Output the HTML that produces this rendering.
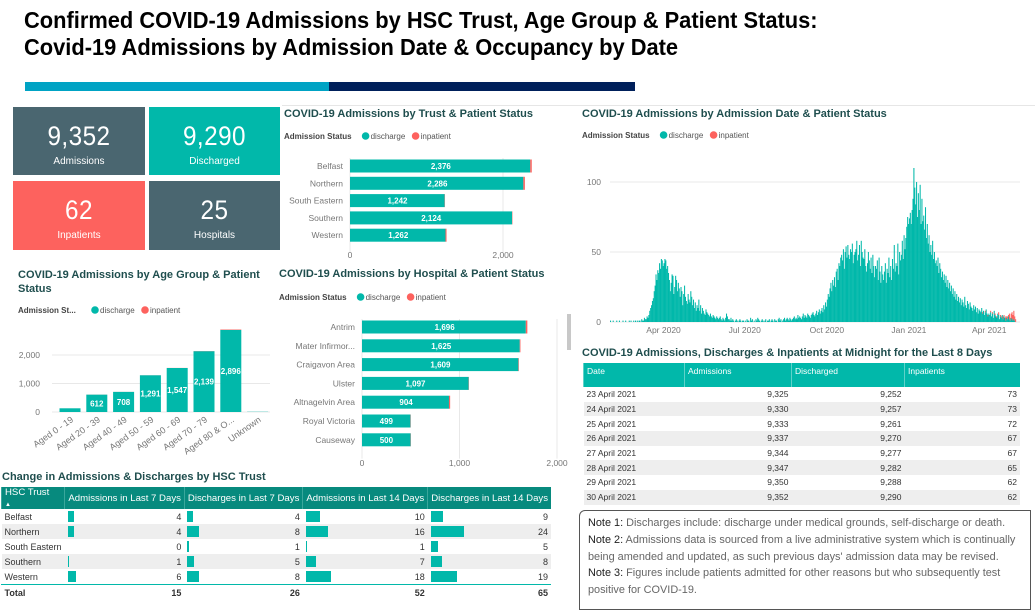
<!DOCTYPE html>
<html><head><meta charset="utf-8">
<style>
body{margin:0;width:1035px;height:607px;overflow:hidden;background:#fff;font-family:"Liberation Sans",sans-serif;position:relative}
.abs{position:absolute}
.h1{font-weight:bold;font-size:23px;color:#000;left:24px;white-space:nowrap;transform:scaleX(0.95);transform-origin:0 0}
.kpi{position:absolute;color:#fff;text-align:center}
.kpi .v{font-size:27px;margin-top:14px;letter-spacing:0.5px;transform:scaleX(0.9)}
.kpi .l{font-size:10px;margin-top:4px}
.ttl{position:absolute;font-size:11px;font-weight:bold;color:#1f4e4e;white-space:nowrap}
table{border-collapse:collapse;position:absolute;font-size:8.5px;color:#333}
td,th{padding:0 3px;white-space:nowrap}
#hsc th{background:#078a7e;color:#fff;font-weight:normal;font-size:9.6px;height:18px;border-left:1px solid #3aa79c;text-align:left}
#hsc td{height:15px;position:relative;font-size:9px}
#hsc td.n{text-align:right}
#hsc tr.g td{background:#eee}
.db{position:absolute;left:3px;top:2px;height:11px;background:#01b8aa}
#occ th{background:#01b8aa;color:#fff;font-weight:normal;height:21px;text-align:left;border-left:1px solid #5fd2c9;vertical-align:top;padding-top:3px}
#occ td{height:14.7px;text-align:right}
#occ td:first-child{text-align:left}
#occ tr.g td{background:#eee}
.note{position:absolute;left:579px;top:510px;width:452px;height:100px;border:1px solid #555;border-radius:6px 0 0 0;font-size:10.9px;color:#666;line-height:16.8px;padding:4px 0 0 8px;box-sizing:border-box;white-space:nowrap}
.note b{font-weight:normal;color:#222}
</style></head><body>
<div class="abs h1" style="top:7px">Confirmed COVID-19 Admissions by HSC Trust, Age Group &amp; Patient Status:</div>
<div class="abs h1" style="top:34px">Covid-19 Admissions by Admission Date &amp; Occupancy by Date</div>
<div class="abs" style="left:25px;top:82px;width:304px;height:9px;background:#00a3c4"></div>
<div class="abs" style="left:329px;top:82px;width:306px;height:9px;background:#00205b"></div>
<div class="abs" style="left:282px;top:105px;width:753px;height:1px;background:#e6e6e6"></div>

<div class="kpi" style="left:13px;top:107px;width:132px;height:68px;background:#4a6670"><div class="v">9,352</div><div class="l">Admissions</div></div>
<div class="kpi" style="left:149px;top:107px;width:131px;height:68px;background:#01b8aa"><div class="v">9,290</div><div class="l">Discharged</div></div>
<div class="kpi" style="left:13px;top:181px;width:132px;height:69px;background:#fd625e"><div class="v">62</div><div class="l">Inpatients</div></div>
<div class="kpi" style="left:149px;top:181px;width:131px;height:69px;background:#4a6670"><div class="v">25</div><div class="l">Hospitals</div></div>

<div class="ttl" style="left:284px;top:108px">COVID-19 Admissions by Trust &amp; Patient Status</div>
<div class="ttl" style="left:18px;top:268px;line-height:14px">COVID-19 Admissions by Age Group &amp; Patient<br>Status</div>
<div class="ttl" style="left:279px;top:268px">COVID-19 Admissions by Hospital &amp; Patient Status</div>
<div class="ttl" style="left:582px;top:108px">COVID-19 Admissions by Admission Date &amp; Patient Status</div>
<div class="ttl" style="left:582px;top:347px">COVID-19 Admissions, Discharges &amp; Inpatients at Midnight for the Last 8 Days</div>
<div class="ttl" style="left:2px;top:471px">Change in Admissions &amp; Discharges by HSC Trust</div>

<svg id="svg" class="abs" style="left:0;top:0" width="1035" height="607"></svg>

<table id="hsc" style="left:1px;top:487px;width:550px">
<tr><th style="width:57px">HSC Trust<br><span style="font-size:6px">▲</span></th><th>Admissions in Last 7 Days</th><th>Discharges in Last 7 Days</th><th>Admissions in Last 14 Days</th><th>Discharges in Last 14 Days</th></tr>
</table>
<div class="abs" style="left:1px;top:584px;width:550px;height:1px;background:#01b8aa"></div>

<table id="occ" style="left:583px;top:363px;width:437px">
<tr><th style="width:94px">Date</th><th style="width:100px">Admissions</th><th style="width:106px">Discharged</th><th>Inpatients</th></tr>
</table>

<div class="note">
<div><b>Note 1:</b> Discharges include: discharge under medical grounds, self-discharge or death.</div>
<div><b>Note 2:</b> Admissions data is sourced from a live administrative system which is continually</div>
<div>being amended and updated, as such previous days' admission data may be revised.</div>
<div><b>Note 3:</b> Figures include patients admitted for other reasons but who subsequently test</div>
<div>positive for COVID-19.</div>
</div>
<div class="abs" style="left:567px;top:314px;width:4px;height:36px;background:#c8c8c8"></div>

<script>
const trustNames=["Belfast","Northern","South Eastern","Southern","Western"];
const trustDis=[2356,2266,1238,2119,1248];
const trustInp=[20,20,4,5,14];
const trustLabels=["2,376","2,286","1,242","2,124","1,262"];
const ageNames=["Aged 0 - 19","Aged 20 - 39","Aged 40 - 49","Aged 50 - 59","Aged 60 - 69","Aged 70 - 79","Aged 80 & O...","Unknown"];
const ageDis=[130,610,706,1289,1544,2134,2880,8];
const ageInp=[0,2,2,2,3,5,16,0];
const ageLabels=["","612","708","1,291","1,547","2,139","2,896",""];
const hospNames=["Antrim","Mater Infirmor...","Craigavon Area","Ulster","Altnagelvin Area","Royal Victoria","Causeway"];
const hospDis=[1680,1618,1604,1094,892,497,499];
const hospInp=[16,7,5,3,12,2,1];
const hospLabels=["1,696","1,625","1,609","1,097","904","499","500"];
const dailyDis=[
1,0,0,1,0,0,0,1,0,0,1,0,0,0,1,0,0,1,0,0,0,1,0,1,0,0,1,0,1,
0,1,0,1,1,0,2,1,1,3,2,2,4,3,5,8,10,12,15,17,22,26,34,30,37,35,42,38,45,44,40,
42,45,44,38,40,35,30,22,28,34,33,20,25,33,30,22,28,24,18,25,22,12,20,26,18,15,13,20,16,14,
22,18,12,16,10,14,8,12,10,16,8,12,6,10,8,6,5,9,7,6,5,4,6,4,3,5,4,3,2,4,3,
2,3,4,2,1,3,2,1,3,6,4,2,2,1,3,1,2,1,0,1,2,1,0,1,2,1,0,1,1,0,
1,0,2,1,1,0,3,1,2,0,1,0,2,1,3,2,1,0,1,2,1,0,1,2,0,1,1,2,0,1,2,
1,0,2,1,1,0,2,3,1,2,0,1,2,3,1,2,3,2,1,3,2,1,2,3,4,2,3,2,5,3,4,
3,2,4,6,3,5,4,3,6,5,4,3,5,6,7,5,4,6,8,5,7,9,6,8,10,7,12,9,14,11,
16,20,18,24,28,22,30,26,32,25,36,38,30,42,40,46,48,44,52,38,50,54,46,55,48,45,52,50,56,42,48,
50,52,58,44,48,55,40,58,50,46,45,52,40,36,42,50,44,38,46,35,48,40,32,40,38,44,30,46,36,28,
40,34,30,36,42,28,38,35,46,32,40,30,45,38,55,36,42,40,56,34,50,44,48,58,45,62,52,60,68,75,70,
74,78,70,80,88,110,96,84,100,75,92,80,98,70,88,72,76,66,82,60,70,56,62,50,55,48,58,45,50,42,44,
40,46,35,42,38,32,36,30,34,28,33,25,30,24,28,22,26,20,24,18,22,16,20,15,18,14,17,12,
16,14,11,18,12,10,15,13,9,14,11,10,8,12,9,11,7,10,6,9,8,7,10,6,8,5,7,9,6,4,6,
5,7,4,6,3,8,5,4,3,6,5,2,4,3,5,2,4,3,1,3,2,4,2,1,3,2,1,2,1,0];
const dailyInpTail=[0,0,1,0,0,1,0,0,1,0,0,1,0,1,0,0,1,0,1,0,2,0,1,1,0,2,1,0,3,1,2,1,4,2,3,5,4,6,3,2];
const dailyTicks=[0,50,100];
const monthLabels=["Apr 2020","Jul 2020","Oct 2020","Jan 2021","Apr 2021"];
const monthDays=[60,151,243,335,425];
const hscRows=["Belfast","Northern","South Eastern","Southern","Western"];
const adm7=[4,4,0,1,6],dis7=[4,8,1,5,8],adm14=[10,16,1,7,18],dis14=[9,24,5,8,19];
const occDates=["23 April 2021","24 April 2021","25 April 2021","26 April 2021","27 April 2021","28 April 2021","29 April 2021","30 April 2021"];
const occAdm=[9325,9330,9333,9337,9344,9347,9350,9352];
const occDis=[9252,9257,9261,9270,9277,9282,9288,9290];
const occInp=[73,73,72,67,67,65,62,62];

const NS="http://www.w3.org/2000/svg",svg=document.getElementById('svg');
const TEAL="#01b8aa",RED="#fd625e",GRID="#e8e8e8",AX="#777";
function mk(t,a,p){const e=document.createElementNS(NS,t);for(const k in a)e.setAttribute(k,a[k]);(p||svg).appendChild(e);return e;}
function txt(x,y,s,a){const e=mk('text',Object.assign({x:x,y:y,'font-size':8.5,fill:AX,'font-family':'Liberation Sans, sans-serif'},a||{}));e.textContent=s;return e;}
function legend(x,y,lab){
  const a=txt(x,y,lab,{fill:'#444','font-weight':'bold','font-size':8});
  
  
  const w=lab.length*4.6+4;
  const c1=mk('circle',{cx:x+w+4,cy:y-3,r:3.8,fill:TEAL});
  
  
  const t1=txt(x+w+9,y,'discharge',{fill:'#555','font-size':8});
  
  
  const c2=mk('circle',{cx:x+w+54,cy:y-3,r:3.8,fill:RED});
  
  
  const t2=txt(x+w+59,y,'inpatient',{fill:'#555','font-size':8});
  
  
}
function hbar(names,dis,inp,labels,x0,pxPer,y0,step,h,ticks,tickY,lblX){
  ticks.forEach(v=>{const gx=x0+v*pxPer;
    const g=mk('line',{x1:gx,x2:gx,y1:y0-8,y2:y0+step*names.length,stroke:GRID});
    
    const t=txt(gx,tickY,v.toLocaleString('en-US'),{'text-anchor':'middle'});
    
  });
  names.forEach((n,i)=>{const cy=y0+i*step;
    const l=txt(lblX,cy+3,n,{'text-anchor':'end'});
    
    
    const b=mk('rect',{x:x0,y:cy-h/2,width:dis[i]*pxPer,height:h,fill:TEAL});
    
    
    const r=mk('rect',{x:x0+dis[i]*pxPer,y:cy-h/2,width:Math.max(inp[i]*pxPer,0.3),height:h,fill:RED});
    
    
    const v=txt(x0+(dis[i]+inp[i])*pxPer/2,cy+3,labels[i],{'text-anchor':'middle',fill:'#fff','font-weight':'bold','font-size':8});
    
  });
}
legend(284,139,'Admission Status');
hbar(trustNames,trustDis,trustInp,trustLabels,350,0.0765,166,17.3,13,[0,2000],258,343);
legend(279,300,'Admission Status');
hbar(hospNames,hospDis,hospInp,hospLabels,362,0.0975,327,18.8,13,[0,1000,2000],466,355);
legend(18,313,'Admission St...');
(function(){const y0=412,py=0.0285,x0=70,st=26.8,w=21;
  [0,1000,2000].forEach(v=>{const y=y0-v*py;
    const g=mk('line',{x1:52,x2:270,y1:y,y2:y,stroke:GRID});
    
    const t=txt(40,y+3,v.toLocaleString('en-US'),{'text-anchor':'end'});
    
  });
  ageNames.forEach((n,i)=>{const cx=x0+i*st,hd=ageDis[i]*py,hi=ageInp[i]*py;
    const b=mk('rect',{x:cx-w/2,y:y0-hd,width:w,height:hd,fill:TEAL});
    
    
    const r=mk('rect',{x:cx-w/2,y:y0-hd-hi,width:w,height:hi,fill:RED});
    
    
    if(ageLabels[i]){const v=txt(cx,y0-hd/2+3,ageLabels[i],{'text-anchor':'middle',fill:'#fff','font-weight':'bold','font-size':8});
      }
    const l=txt(cx+4,y0+9,n,{'text-anchor':'end','font-size':9,transform:'rotate(-35 '+(cx+4)+' '+(y0+9)+')'});
    
  });
})();
legend(582,138,'Admission Status');
(function(){const x0=610,x1=1016,y0=322,py=1.4,n=dailyDis.length,dx=(x1-x0)/n;
  const inp=new Array(n-dailyInpTail.length).fill(0).concat(dailyInpTail);
  dailyTicks.forEach(v=>{const y=y0-v*py;
    const g=mk('line',{x1:x0,x2:1020,y1:y,y2:y,stroke:GRID});
    
    const t=txt(601,y+3,String(v),{'text-anchor':'end'});
    
  });
  dailyDis.forEach((v,i)=>{const x=x0+i*dx,h=v*py,hi=inp[i]*py;
    if(h>0){const b=mk('rect',{x:x,y:y0-h,width:dx+0.15,height:h,fill:TEAL});
      
      }
    if(hi>0){const r=mk('rect',{x:x,y:y0-h-hi,width:dx+0.15,height:hi,fill:RED});
      
      }
  });
  monthLabels.forEach((m,i)=>{const t=txt(x0+monthDays[i]*dx,333,m,{'text-anchor':'middle'});
    });
})();
(function(){const tb=document.getElementById('hsc');
  hscRows.forEach((r,i)=>{const tr=document.createElement('tr');
    
    
    if(i%2)tr.className='g';
    let h='<td>'+r+'</td>';
    [adm7,dis7,adm14,dis14].forEach(a=>{h+='<td class="n"><div class="db" style="width:'+(a[i]*1.4)+'px"></div>'+a[i]+'</td>';});
    tr.innerHTML=h;tb.appendChild(tr);});
  const tr=document.createElement('tr');
  
  
  const s=a=>a.reduce((p,c)=>p+c,0);
  tr.innerHTML='<td style="font-weight:bold;height:18px">Total</td>'+[adm7,dis7,adm14,dis14].map(a=>'<td class="n" style="font-weight:bold">'+s(a)+'</td>').join('');
  tb.appendChild(tr);
})();
(function(){const tb=document.getElementById('occ');
  occDates.forEach((d,i)=>{const tr=document.createElement('tr');
    
    
    if(i%2)tr.className='g';
    tr.innerHTML='<td>'+d+'</td><td>'+occAdm[i].toLocaleString('en-US')+'</td><td>'+occDis[i].toLocaleString('en-US')+'</td><td>'+occInp[i]+'</td>';
    tb.appendChild(tr);});
})();
</script>
</body></html>
